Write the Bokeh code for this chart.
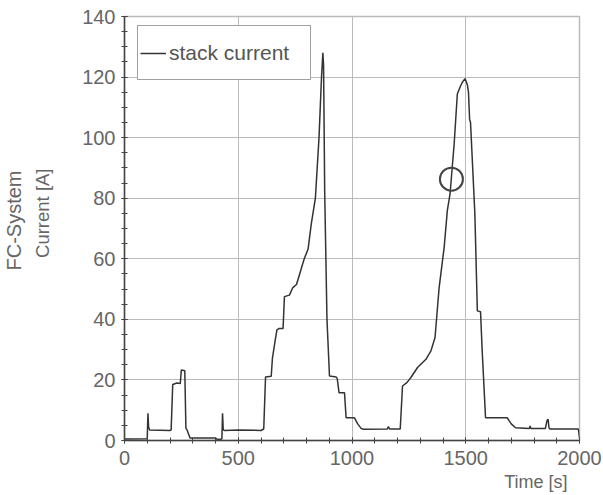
from bokeh.plotting import figure
from bokeh.models import Range1d, SingleIntervalTicker, Title, Legend, LegendItem, ColumnDataSource
from bokeh.embed import file_html
from bokeh.resources import INLINE

# ---- data ----
time_s = [0, 100, 103, 106, 110, 200, 205, 212, 230, 245, 250, 265, 270, 275, 288,
          400, 410, 428, 431, 434, 440, 500, 600, 612, 620, 645, 650, 662, 670, 680,
          697, 703, 725, 740, 756, 770, 790, 807, 821, 839, 855, 866, 872, 875, 880,
          890, 901, 930, 935, 943, 967, 974, 1011, 1025, 1040, 1050, 1155, 1160, 1165,
          1212, 1222, 1241, 1259, 1288, 1325, 1347, 1365, 1383, 1405, 1419, 1431, 1449,
          1463, 1478, 1485, 1497, 1507, 1512, 1517, 1521, 1540, 1551, 1565, 1572, 1587,
          1682, 1700, 1719, 1780, 1783, 1786, 1850, 1857, 1862, 1866, 1870, 1995, 2000]
stack_current = [0.5, 0.6, 9.0, 4.5, 3.5, 3.3, 3.5, 18.5, 19.0, 18.8, 23.3, 23.0, 4.0, 3.5, 0.8,
                 0.8, 0.3, 0.5, 9.0, 3.5, 3.3, 3.5, 3.3, 3.8, 21.0, 21.2, 27.0, 32.9, 36.5, 37.0,
                 37.0, 47.5, 48.0, 50.5, 51.5, 55.0, 60.0, 63.2, 71.5, 80.0, 100.0, 120.0, 128.0, 124.0, 82.0,
                 40.0, 21.3, 21.0, 20.5, 15.8, 15.8, 7.5, 7.5, 5.5, 4.0, 3.7, 3.8, 4.6, 3.8,
                 3.8, 18.0, 19.1, 20.8, 24.1, 26.8, 29.6, 34.0, 50.5, 63.7, 75.9, 81.4, 97.9,
                 114.4, 117.2, 118.3, 119.5, 117.5, 115.0, 106.0, 105.0, 75.0, 42.8, 42.5, 30.0, 7.5,
                 7.5, 5.5, 4.2, 4.0, 4.8, 4.0, 4.0, 6.5, 7.0, 4.2, 3.8, 3.8, 0.9]
marker_t = [1437]
marker_I = [86.3]

x_label = "Time [s]"
y_label_lines = ["FC-System", "Current [A]"]
series_name = "stack current"

FONT = "Liberation Sans"
TXT = "#666666"

p = figure(width=603, height=495, output_backend="svg", toolbar_location=None,
           x_range=Range1d(0, 2000), y_range=Range1d(0, 140),
           min_border_left=124, min_border_right=24, min_border_top=16, min_border_bottom=55)
p.background_fill_color = "white"
p.border_fill_color = "white"
p.outline_line_color = "#bbbbbb"
p.outline_line_width = 1.5

for ax in (p.xaxis[0], p.yaxis[0]):
    ax.axis_line_color = "#444444"
    ax.axis_line_width = 1.5
    ax.major_tick_line_color = "#444444"
    ax.minor_tick_line_color = "#444444"
    ax.major_tick_line_width = 1
    ax.minor_tick_line_width = 1
    ax.major_tick_in = 3
    ax.major_tick_out = 3
    ax.minor_tick_in = 3
    ax.minor_tick_out = 3
    ax.major_label_text_font = FONT
    ax.major_label_text_font_size = "20px"
    ax.major_label_text_color = TXT
p.xaxis[0].major_label_standoff = 7
p.yaxis[0].major_label_standoff = 6

p.xaxis[0].ticker = SingleIntervalTicker(interval=500, num_minor_ticks=5)
p.yaxis[0].ticker = SingleIntervalTicker(interval=20, num_minor_ticks=4)
p.xgrid[0].ticker = p.xaxis[0].ticker
p.ygrid[0].ticker = p.yaxis[0].ticker
for g in (p.xgrid[0], p.ygrid[0]):
    g.grid_line_color = "#bbbbbb"
    g.grid_line_width = 1

src = ColumnDataSource(dict(t=time_s, i=stack_current))
r = p.line("t", "i", source=src, line_color="#333333", line_width=1.5)

p.scatter(marker_t, marker_I, marker="circle", size=23, fill_color=None,
          line_color="#444444", line_width=2)

legend = Legend(items=[LegendItem(label=series_name, renderers=[r])],
                location=(13, 360), padding=2, margin=0, spacing=0,
                glyph_width=26, glyph_height=20, label_standoff=3,
                label_width=139, label_height=49,
                label_text_font=FONT, label_text_font_size="21px", label_text_color="#555555",
                border_line_color="#444444", border_line_width=1.5,
                background_fill_color="white", background_fill_alpha=1.0)
p.add_layout(legend, "center")


def mk_title(text, size, **kw):
    t = Title(text=text, text_font=FONT, text_font_size=size, text_color=TXT,
              text_font_style="normal", **kw)
    if "text_line_height" in t.properties():
        t.text_line_height = 1.0
    return t


# axis titles as Title annotations in the side panels
p.add_layout(mk_title(x_label, "18px", align="right", offset=12, standoff=4), "below")
# spacer between the y axis and its two-line title
p.add_layout(mk_title(" ", "1px", align="right", offset=0, standoff=18), "left")
p.add_layout(mk_title(y_label_lines[1], "18.5px", align="right", offset=152, standoff=11), "left")
p.add_layout(mk_title(y_label_lines[0], "20px", align="right", offset=154, standoff=0), "left")

open("out.html", "w").write(file_html(p, INLINE))
